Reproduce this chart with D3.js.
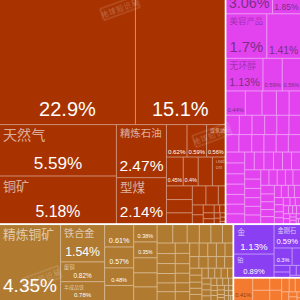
<!DOCTYPE html>
<html>
<head>
<meta charset="utf-8">
<script src="https://cdn.jsdelivr.net/npm/d3@7"></script>
<style>
  html, body { margin: 0; padding: 0; background: #fff; }
  svg { display: block; }
</style>
</head>
<body>
<div id="chart"></div>
<script>
// 板块（顶部被裁掉的部分没有显示）
const sectors = ['矿产品', '化工产品', '金属', '贵金属', '其他'];

// 各板块产品占比 (%)
const mineralValues = [22.9, 15.1, 5.59, 5.18, 2.47, 2.14, 0.62, 0.59, 0.56, 0.45, 0.4, 0.38, 0.34, 0.33, 0.32,
  0.26, 0.24, 0.22, 0.12, 0.1, 0.09, 0.08, 0.06, 0.05, 0.04, 0.04, 0.03, 0.03, 0.02, 0.02, 0.01];
const mineralNames = ['', '', '天然气', '铜矿', '精炼石油', '型煤', '', '', '煤焦油', '', '', '', 'Lead Ore'];

const chemValues = [3.06, 1.85, 1.7, 1.41, 1.13, 0.59, 0.56, 0.44, 0.38, 0.33, 0.29, 0.26,
  0.24, 0.23, 0.23, 0.22, 0.22, 0.21, 0.21, 0.21, 0.2, 0.2, 0.2, 0.2, 0.19, 0.19, 0.18, 0.18, 0.17,
  0.17, 0.17, 0.16, 0.16, 0.16, 0.15, 0.15, 0.15, 0.14, 0.14, 0.14, 0.13, 0.13, 0.13, 0.12, 0.12, 0.12,
  0.11, 0.11, 0.11, 0.1, 0.1, 0.09, 0.09, 0.08, 0.08, 0.07, 0.07, 0.06, 0.06, 0.05, 0.05, 0.05,
  0.04, 0.04, 0.04, 0.03, 0.03, 0.03, 0.03, 0.03, 0.02, 0.02, 0.02, 0.02, 0.01, 0.01];
const chemNames = ['', '', '美容产品', '', '无环醇'];

const metalValues = [4.35, 1.54, 0.82, 0.78, 0.61, 0.57, 0.48, 0.41, 0.38, 0.35, 0.33, 0.31, 0.3,
  0.27, 0.25, 0.21, 0.2, 0.2, 0.18, 0.18, 0.17, 0.17, 0.16, 0.15, 0.15, 0.14, 0.14, 0.13, 0.13,
  0.12, 0.12, 0.12, 0.11, 0.11, 0.11, 0.1, 0.1, 0.1, 0.09, 0.09, 0.09, 0.08, 0.08, 0.07, 0.07, 0.07,
  0.06, 0.06, 0.06, 0.06, 0.05, 0.05, 0.05, 0.05, 0.04, 0.04, 0.04, 0.04, 0.03, 0.03, 0.03, 0.03, 0.03, 0.03,
  0.02, 0.02, 0.02, 0.02, 0.02, 0.02, 0.02, 0.01, 0.01];
const metalNames = ['精炼铜矿', '铁合金', '废铜', '半成品铁'];

const preciousValues = [1.13, 0.89, 0.59, 0.3, 0.14, 0.1, 0.08, 0.06, 0.04, 0.02];
const preciousNames = ['金', '铂', '金刚石'];

const otherValues = [0.41, 0.2, 0.17, 0.14, 0.12, 0.1, 0.08, 0.07, 0.06, 0.04, 0.03, 0.02, 0.01];
const otherNames = [];

const sectorValues = [mineralValues, chemValues, metalValues, preciousValues, otherValues];
const sectorNames = [mineralNames, chemNames, metalNames, preciousNames, otherNames];

// 样式
const sectorColors = ['#a83300', '#e243ef', '#b07a30', '#8a40f2', '#f47a30'];
const pctColors = ['#ffffff', '#7b2e86', '#ffffff', '#ffffff', '#8a3a10'];
const nameColors = ['rgba(255,255,255,0.62)', 'rgba(110,30,120,0.55)', 'rgba(255,255,255,0.62)',
  'rgba(255,255,255,0.7)', 'rgba(120,50,10,0.6)'];

const W = 300, H = 300;
const fullHeight = 356;          // 原图顶部被裁切
const cropTop = fullHeight - H;

const data = {
  name: 'root',
  children: sectors.map((s, i) => ({
    name: s,
    sector: i,
    children: sectorValues[i].map((v, j) => ({ name: sectorNames[i][j] || '', value: v, sector: i }))
  }))
};

const root = d3.hierarchy(data)
  .sum(d => d.value || 0)
  .sort((a, b) => b.value - a.value);

d3.treemap()
  .tile(d3.treemapSquarify)
  .size([W, fullHeight])
  .paddingInner(d => d.depth === 0 ? 2 : 1)
  (root);

const svg = d3.select('#chart').append('svg')
  .attr('width', W)
  .attr('height', H);

svg.append('rect').attr('width', W).attr('height', H).attr('fill', '#fff');

const g = svg.append('g').attr('transform', `translate(0,${-cropTop})`);

// 板块底色（形成浅色分隔线）
g.selectAll('rect.sector')
  .data(root.children)
  .join('rect')
  .attr('class', 'sector')
  .attr('x', d => d.x0).attr('y', d => d.y0)
  .attr('width', d => d.x1 - d.x0).attr('height', d => d.y1 - d.y0)
  .attr('fill', d => d3.interpolateRgb(sectorColors[d.data.sector], '#fff')(0.45));

const leaves = root.leaves();

g.selectAll('rect.cell')
  .data(leaves)
  .join('rect')
  .attr('class', 'cell')
  .attr('x', d => d.x0).attr('y', d => d.y0)
  .attr('width', d => Math.max(0, d.x1 - d.x0)).attr('height', d => Math.max(0, d.y1 - d.y0))
  .attr('fill', d => sectorColors[d.data.sector]);

const labels = g.append('g');
const pctFont = '"Liberation Sans", Arial, Helvetica, sans-serif';
const nameFont = '"Noto Sans CJK SC", "Noto Sans", sans-serif';

leaves.forEach(d => {
  const w = d.x1 - d.x0, h = d.y1 - d.y0;
  const s = d.data.sector;

  // 百分比
  const t = labels.append('text')
    .attr('font-family', pctFont)
    .attr('font-size', 10)
    .text(d.data.value + '%');
  const tw = t.node().getComputedTextLength();
  const fs = Math.min(20, h * 0.34, 0.9 * w / tw * 10);
  if (fs < 5) {
    t.remove();
  } else {
    t.attr('font-size', fs)
      .attr('text-anchor', 'middle')
      .attr('x', (d.x0 + d.x1) / 2)
      .attr('y', d.y1 - Math.max(3, fs * 0.4))
      .attr('fill', pctColors[s]);
  }

  // 名称（英文名按空格换行）
  if (d.data.name) {
    const words = d.data.name.split(' ');
    const n = labels.append('text')
      .attr('font-family', nameFont)
      .attr('font-size', 10)
      .attr('fill', nameColors[s]);
    words.forEach(wd => n.append('tspan').text(wd));
    let widest = 0;
    n.selectAll('tspan').each(function () {
      widest = Math.max(widest, this.getComputedTextLength());
    });
    const nfs = Math.min(15, h * 0.28 / words.length, 0.85 * w / widest * 10);
    if (nfs < 3.5) {
      n.remove();
    } else {
      n.attr('font-size', nfs);
      n.selectAll('tspan')
        .attr('x', d.x0 + 3)
        .attr('y', (_, i) => d.y0 + 2 + nfs * 0.95 + i * nfs * 1.4);
    }
  }
});

// 水印
const marks = svg.append('g').attr('opacity', 0.28);
[[120, 8], [212, 135], [42, 278]].forEach(([x, y]) => {
  const m = marks.append('g').attr('transform', `translate(${x},${y}) rotate(-20)`);
  m.append('rect').attr('x', -19).attr('y', -6).attr('width', 38).attr('height', 12)
    .attr('fill', 'none').attr('stroke', '#fff').attr('stroke-width', 0.8);
  m.append('text').attr('text-anchor', 'middle').attr('y', 3)
    .attr('font-family', nameFont).attr('font-size', 7).attr('fill', '#fff')
    .attr('letter-spacing', 1).text('地球知识局');
});
</script>
</body>
</html>
